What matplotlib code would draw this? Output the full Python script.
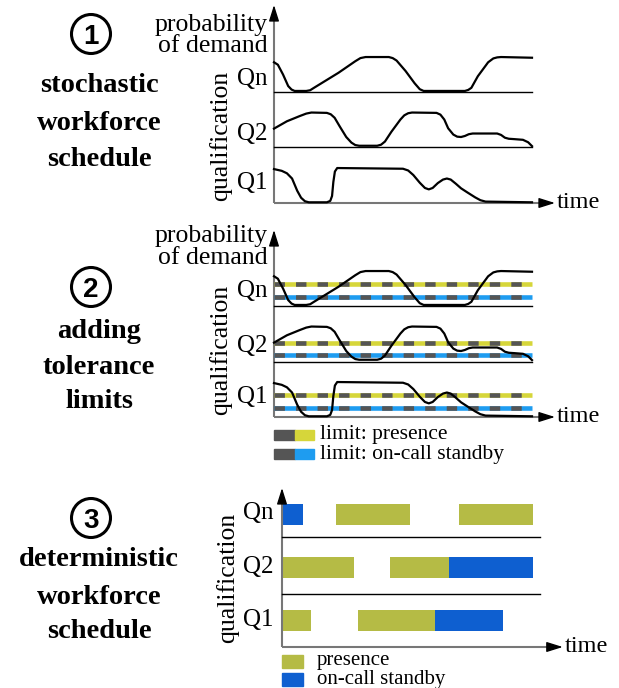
import matplotlib
matplotlib.use('Agg')
import matplotlib.pyplot as plt
from matplotlib.patches import Rectangle, Circle

plt.rcParams['font.family'] = 'Liberation Serif'
plt.rcParams['lines.scale_dashes'] = False

W, H = 619, 688

# demand curves: time (0..100) and level (0..1 inside a row)
qn_t = [0, 1.5, 3.5, 5.5, 6.8, 8, 12.5, 14, 15.5, 25, 31.5, 33.5, 35.5, 44.5, 46, 47.5, 51,
        54.5, 56.5, 58, 74, 75.3, 76.5, 79, 83, 85, 86.5, 88, 100]
qn_v = [0.85, 0.78, 0.5, 0.17, 0.07, 0.03, 0.03, 0.05, 0.12, 0.55, 0.88, 0.97, 1.0, 1.0, 0.97,
        0.9, 0.6, 0.25, 0.08, 0.03, 0.03, 0.06, 0.12, 0.45, 0.85, 0.96, 0.99, 1.0, 0.98]
q2_t = [0, 5, 10, 12.5, 14.5, 20.5, 22, 23.5, 25.5, 28, 30, 31.5, 33, 40, 41.5, 43, 45.5, 49,
        50.5, 52, 53.5, 63, 64.5, 66, 67.5, 69.5, 71, 72.5, 74, 75.5, 77, 86.5, 88, 89.5, 91,
        93, 96.5, 98.5, 100]
q2_v = [0.54, 0.75, 0.9, 0.97, 1.0, 0.99, 0.95, 0.85, 0.6, 0.3, 0.14, 0.07, 0.05, 0.05, 0.08,
        0.17, 0.45, 0.8, 0.92, 0.98, 1.0, 0.99, 0.94, 0.8, 0.55, 0.37, 0.31, 0.3, 0.33, 0.38,
        0.4, 0.4, 0.36, 0.28, 0.25, 0.24, 0.22, 0.15, 0.04]
q1_t = [0, 3, 5, 7, 9, 10.5, 12, 13.5, 20.5, 21.8, 22.5, 23, 23.6, 24.5, 50, 52, 54, 56.5,
        58.5, 60, 61.5, 63.5, 65.5, 67, 68.5, 70.5, 72.5, 75, 78, 80, 82, 100]
q1_v = [0.97, 0.92, 0.85, 0.7, 0.35, 0.15, 0.05, 0.02, 0.02, 0.06, 0.2, 0.6, 0.9, 1.0, 0.98,
        0.93, 0.8, 0.58, 0.43, 0.39, 0.43, 0.57, 0.67, 0.7, 0.67, 0.55, 0.42, 0.3, 0.16, 0.08,
        0.04, 0.02]

rows = ['Q1', 'Q2', 'Qn']
curves = [(q1_t, q1_v), (q2_t, q2_v), (qn_t, qn_v)]

# tolerance limits (level inside a row)
lim_presence = [0.62, 0.54, 0.62]
lim_standby = [0.27, 0.20, 0.27]

# deterministic schedule: (start, width) per row
presence = [[(0, 11.4), (30.5, 30.6)],
            [(0, 28.8), (43.2, 23.5)],
            [(21.6, 29.5), (70.8, 29.2)]]
standby = [[(61.1, 26.9)],
           [(66.7, 33.3)],
           [(0, 8.4)]]

c_pres = '#b5bb45'
c_stby = '#0e5fd0'
c_yel = '#d6d63a'
c_blu = '#1e9cf0'
c_gray = '#555555'
c_axis = '#777777'
amp = 0.63

fig = plt.figure(figsize=(W/100, H/100), dpi=100)

bg = fig.add_axes([0, 0, 1, 1])
bg.set_xlim(0, W)
bg.set_ylim(H, 0)
bg.axis('off')


def panel(left, top, right, bottom, xs, ys):
    ax = fig.add_axes([left/W, 1-bottom/H, (right-left)/W, (bottom-top)/H])
    ax.set_xlim(0, (right-left)/xs)
    ax.set_ylim(0, (bottom-top)/ys)
    ax.axis('off')
    return ax


def axes_arrows(ax, xtip, ytip):
    ax.plot([0, xtip-2], [0, 0], color=c_axis, lw=1.5, clip_on=False, solid_capstyle='butt')
    ax.plot([0, 0], [0, ytip-0.1], color=c_axis, lw=1.5, clip_on=False, solid_capstyle='butt')
    head = dict(arrowstyle='-|>,head_length=0.7,head_width=0.22', color='k', lw=1,
                mutation_scale=14, shrinkA=0, shrinkB=0)
    ax.annotate('', xy=(xtip, 0), xytext=(xtip-4, 0), annotation_clip=False, arrowprops=head)
    ax.annotate('', xy=(0, ytip), xytext=(0, ytip-0.15), annotation_clip=False, arrowprops=head)


def ftext(x, y, s, **kw):
    bg.text(x, y, s, **kw)


# ---- panel 1 and 2: stochastic demand ----
for top, bottom in [(5, 203), (230, 417)]:
    ax = panel(274, top, 560, bottom, 2.58, 55.5)
    axes_arrows(ax, 108.9, (bottom-top)/55.5)
    for i, (t, v) in enumerate(curves):
        if i > 0:
            ax.plot([0, 100], [i, i], color='k', lw=1, clip_on=False)
        if bottom == 417:
            y1 = i + lim_presence[i]*amp
            y2 = i + lim_standby[i]*amp
            ax.plot([0, 100], [y1, y1], color=c_yel, lw=3.3, solid_capstyle='butt', clip_on=False)
            ax.plot([0, 100], [y1, y1], color=c_gray, lw=3.3, dashes=(7.5, 8), clip_on=False)
            ax.plot([0, 100], [y2, y2], color=c_blu, lw=3.3, solid_capstyle='butt', clip_on=False)
            ax.plot([0, 100], [y2, y2], color=c_gray, lw=3.3, dashes=(7.5, 8), clip_on=False)
        ax.plot(t, [i + a*amp for a in v], color='k', lw=1.6, clip_on=False, zorder=5)

# panel 1 labels
ftext(268, 25, 'probability', fontsize=18.5, ha='right', va='center')
ftext(268, 46, 'of demand', fontsize=18.5, ha='right', va='center')
ftext(221, 136, 'qualification', fontsize=18.5, rotation=90, ha='center', va='center')
for s, y in zip(rows, [183, 134, 79]):
    ftext(267, y, s, fontsize=18, ha='right', va='center')
ftext(557, 203, 'time', fontsize=17.5, ha='left', va='center')

# panel 2 labels
ftext(268, 236, 'probability', fontsize=18.5, ha='right', va='center')
ftext(268, 258, 'of demand', fontsize=18.5, ha='right', va='center')
ftext(221, 350, 'qualification', fontsize=18.5, rotation=90, ha='center', va='center')
for s, y in zip(rows, [397, 346, 291]):
    ftext(267, y, s, fontsize=18, ha='right', va='center')
ftext(557, 417, 'time', fontsize=17.5, ha='left', va='center')

bg.add_patch(Rectangle((274, 430), 21, 10, color=c_gray))
bg.add_patch(Rectangle((295, 430), 19, 10, color=c_yel))
bg.add_patch(Rectangle((274, 449), 21, 10, color=c_gray))
bg.add_patch(Rectangle((295, 449), 19, 10, color=c_blu))
ftext(320, 435, 'limit: presence', fontsize=15.5, ha='left', va='center')
ftext(320, 454, 'limit: on-call standby', fontsize=15.5, ha='left', va='center')

# ---- panel 3: deterministic schedule ----
ax3 = panel(282, 488, 565, 647, 2.507, 53)
axes_arrows(ax3, 112, 3.0)
for i in range(3):
    ax3.broken_barh(presence[i], (i + 0.31, 0.38), facecolors=c_pres, clip_on=False)
    ax3.broken_barh(standby[i], (i + 0.31, 0.38), facecolors=c_stby, clip_on=False)
ax3.plot([0, 103], [1, 1], color='k', lw=1, clip_on=False)
ax3.plot([0, 103], [2.08, 2.08], color='k', lw=1, clip_on=False)

ftext(228, 578, 'qualification', fontsize=18.5, rotation=90, ha='center', va='center')
for s, y in zip(rows, [620, 567, 513]):
    ftext(274, y, s, fontsize=18, ha='right', va='center')
ftext(565, 647, 'time', fontsize=17.5, ha='left', va='center')

bg.add_patch(Rectangle((282, 655), 21, 13, color=c_pres))
bg.add_patch(Rectangle((282, 673), 21, 13, color=c_stby))
ftext(317, 665, 'presence', fontsize=15, ha='left', va='baseline')
ftext(317, 684, 'on-call standby', fontsize=15, ha='left', va='baseline')

# ---- left column: steps ----
steps = [('1', 34, ['stochastic', 'workforce', 'schedule'], [86, 123, 159]),
         ('2', 287, ['adding', 'tolerance', 'limits'], [331, 367, 401]),
         ('3', 518, ['deterministic', 'workforce', 'schedule'], [560, 597, 632])]
for num, cy, words, ys in steps:
    bg.add_patch(Circle((91, cy), 19.5, fill=False, lw=2.2, color='k'))
    bg.text(91, cy + 10, num, fontsize=20, fontweight='bold', family='Liberation Sans',
            ha='center', va='baseline')
    for w, y in zip(words, ys):
        ftext(99, y, w, fontsize=20.5, fontweight='bold', ha='center', va='center')

fig.savefig('out.png', dpi=100)
